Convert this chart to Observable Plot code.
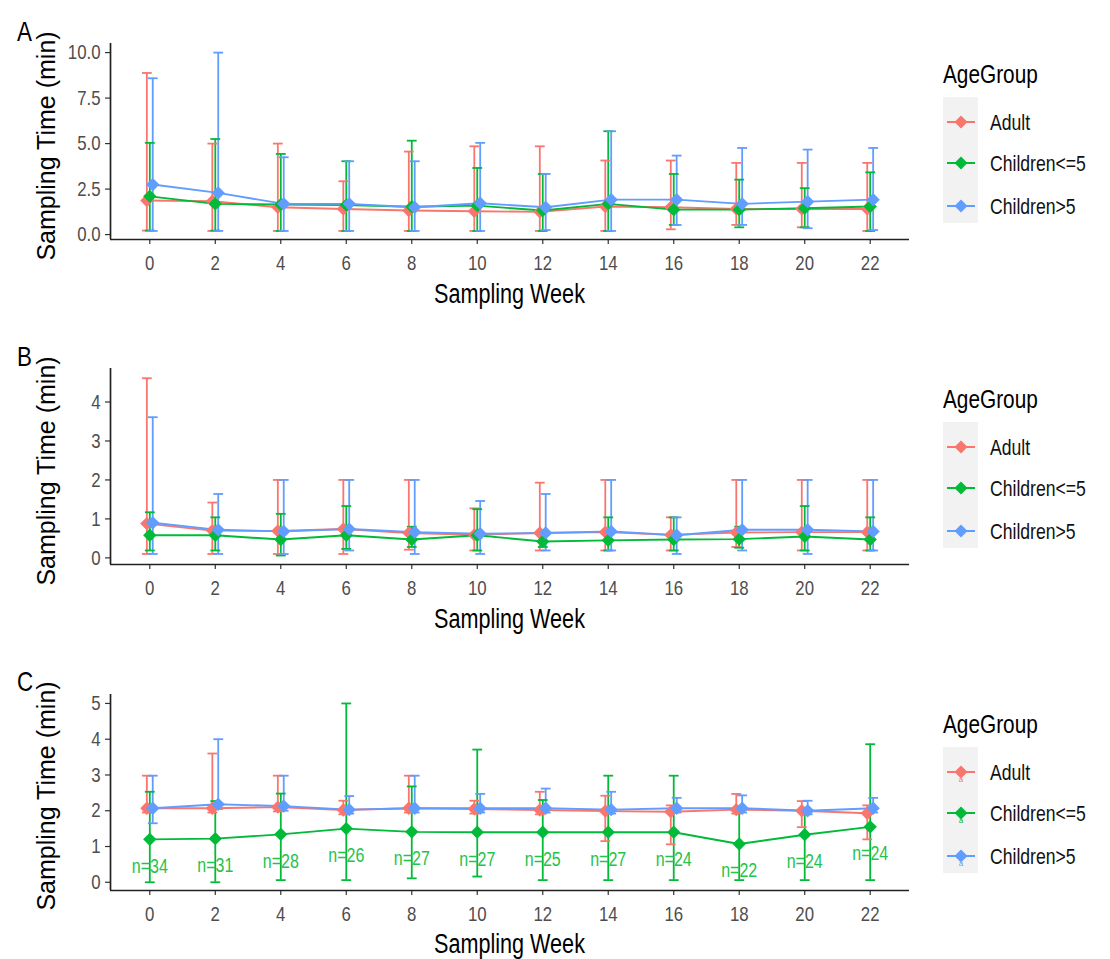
<!DOCTYPE html>
<html><head><meta charset="utf-8">
<script src="https://cdn.jsdelivr.net/npm/d3@7"></script>
<script src="https://cdn.jsdelivr.net/npm/@observablehq/plot@0.6"></script>
<style>
body{margin:0;background:#fff;}
#root{position:relative;width:1110px;height:959px;overflow:hidden;background:#fff;}
#root > svg{position:absolute;}
</style></head><body><div id="root"></div>
<script>
// ---------- data ----------
const weeks = [0, 2, 4, 6, 8, 10, 12, 14, 16, 18, 20, 22];
const groups = ["Adult", "Children<=5", "Children>5"];
const colors = ["#F8766D", "#00BA38", "#619CFF"];

// Panel A
const aAdultMean = [1.87, 1.83, 1.50, 1.41, 1.32, 1.28, 1.25, 1.54, 1.50, 1.41, 1.41, 1.41];
const aAdultHi   = [8.88, 5.00, 5.00, 2.93, 4.56, 4.85, 4.85, 4.07, 4.07, 3.94, 3.94, 3.94];
const aAdultLo   = [0.22, 0.20, 0.20, 0.20, 0.20, 0.20, 0.20, 0.20, 0.29, 0.53, 0.40, 0.20];
const aC5Mean    = [2.10, 1.69, 1.65, 1.62, 1.53, 1.59, 1.32, 1.69, 1.37, 1.37, 1.45, 1.54];
const aC5Hi      = [5.04, 5.25, 4.43, 4.03, 5.16, 3.66, 3.33, 5.68, 3.33, 3.02, 2.55, 3.42];
const aC5Lo      = [0.22, 0.22, 0.20, 0.20, 0.20, 0.20, 0.20, 0.20, 0.53, 0.40, 0.40, 0.20];
const aG5Mean    = [2.75, 2.29, 1.69, 1.69, 1.50, 1.72, 1.50, 1.92, 1.92, 1.69, 1.81, 1.92];
const aG5Hi      = [8.59, 10.0, 4.25, 4.03, 4.03, 5.04, 3.33, 5.68, 4.34, 4.76, 4.67, 4.76];
const aG5Lo      = [0.20, 0.20, 0.20, 0.20, 0.20, 0.20, 0.25, 0.20, 0.53, 0.53, 0.35, 0.25];

// Panel B
const bAdultMean = [0.88, 0.70, 0.69, 0.74, 0.64, 0.59, 0.64, 0.66, 0.59, 0.65, 0.66, 0.66];
const bAdultHi   = [4.61, 1.42, 2.00, 2.00, 2.00, 1.27, 1.93, 2.00, 1.04, 2.00, 2.00, 2.00];
const bAdultLo   = [0.10, 0.10, 0.10, 0.10, 0.21, 0.19, 0.19, 0.19, 0.19, 0.28, 0.19, 0.19];
const bC5Mean    = [0.58, 0.58, 0.47, 0.58, 0.47, 0.58, 0.42, 0.45, 0.47, 0.48, 0.55, 0.47];
const bC5Hi      = [1.17, 1.04, 1.13, 1.33, 0.80, 1.25, 0.65, 1.04, 1.04, 0.80, 1.33, 1.04];
const bC5Lo      = [0.19, 0.19, 0.06, 0.23, 0.28, 0.19, 0.28, 0.19, 0.19, 0.26, 0.19, 0.19];
const bG5Mean    = [0.90, 0.72, 0.68, 0.74, 0.66, 0.62, 0.64, 0.68, 0.58, 0.72, 0.72, 0.68];
const bG5Hi      = [3.61, 1.64, 2.00, 2.00, 2.00, 1.46, 1.64, 2.00, 1.04, 2.00, 2.00, 2.00];
const bG5Lo      = [0.10, 0.10, 0.10, 0.19, 0.10, 0.10, 0.19, 0.19, 0.10, 0.19, 0.10, 0.19];

// Panel C
const cAdultMean = [2.07, 2.07, 2.10, 2.02, 2.07, 2.05, 2.02, 1.99, 1.97, 2.03, 2.00, 1.93];
const cAdultHi   = [2.98, 3.60, 2.98, 2.28, 2.98, 2.28, 2.53, 2.42, 2.15, 2.47, 2.27, 2.15];
const cAdultLo   = [1.95, 1.95, 1.98, 1.90, 1.95, 1.92, 1.90, 1.15, 1.06, 1.92, 1.54, 1.20];
const cC5Mean    = [1.20, 1.22, 1.34, 1.50, 1.41, 1.40, 1.40, 1.40, 1.40, 1.07, 1.33, 1.55];
const cC5Hi      = [2.53, 2.27, 2.48, 5.00, 2.68, 3.71, 2.30, 2.98, 2.98, 2.05, 2.00, 3.86];
const cC5Lo      = [0.00, 0.00, 0.06, 0.06, 0.11, 0.16, 0.06, 0.06, 0.06, 0.06, 0.06, 0.06];
const cG5Mean    = [2.07, 2.18, 2.13, 2.03, 2.07, 2.07, 2.07, 2.03, 2.07, 2.07, 2.00, 2.07];
const cG5Hi      = [2.98, 4.00, 2.98, 2.41, 2.98, 2.47, 2.62, 2.53, 2.36, 2.43, 2.28, 2.36];
const cG5Lo      = [1.65, 2.05, 2.00, 1.92, 1.95, 1.95, 1.95, 1.92, 1.95, 1.95, 1.90, 1.95];
const cCounts    = [34, 31, 28, 26, 27, 27, 25, 27, 24, 22, 24, 24];

const yTicksA = [0, 2.5, 5, 7.5, 10];
const yTicksB = [0, 1, 2, 3, 4];
const yTicksC = [0, 1, 2, 3, 4, 5];

// ---------- layout ----------
const FONT = '"Liberation Sans",Arial,sans-serif';
const SQUEEZE = 0.8;
const root = document.getElementById("root");
const dodge = [-0.09, 0, 0.09];
const xDomain = [-1.2, 23.2];
const capHalf = 0.15;

// render condensed text like the reference (keeps real text, only compresses glyph width)
function squeeze(nodes, k) {
  nodes.forEach(t => {
    const L = t.getComputedTextLength();
    if (L > 0) {
      t.setAttribute("textLength", (L * k).toFixed(2));
      t.setAttribute("lengthAdjust", "spacingAndGlyphs");
    }
  });
}

function buildRows(series) {
  const rows = [];
  series.forEach((s, g) => {
    weeks.forEach((w, i) => {
      rows.push({week: w, group: groups[g], x: w + dodge[g], mean: s[0][i], hi: s[1][i], lo: s[2][i], gi: g});
    });
  });
  return rows;
}

function panel(top, series, yDomain, yTicks, fmt, counts) {
  const rows = buildRows(series);
  const marks = [
    Plot.axisX({ticks: weeks, tickSize: 5, tickPadding: 11, label: null, stroke: "#333", strokeWidth: 1.2, fill: "#4D4D4D", fontSize: 21}),
    Plot.axisY({ticks: yTicks, tickFormat: fmt, tickSize: 5, tickPadding: 5, label: null, stroke: "#333", strokeWidth: 1.2, fill: "#4D4D4D", fontSize: 21}),
    Plot.ruleX([xDomain[0]], {y1: yDomain[0], y2: yDomain[1], stroke: "#222", strokeWidth: 1.7}),
    Plot.ruleY([yDomain[0]], {x1: xDomain[0], x2: xDomain[1], stroke: "#222", strokeWidth: 1.7}),
    Plot.ruleX(rows, {x: "x", y1: "lo", y2: "hi", stroke: "group", strokeWidth: 1.8}),
    Plot.link(rows, {x1: d => d.x - capHalf, x2: d => d.x + capHalf, y1: "hi", y2: "hi", stroke: "group", strokeWidth: 1.8}),
    Plot.link(rows, {x1: d => d.x - capHalf, x2: d => d.x + capHalf, y1: "lo", y2: "lo", stroke: "group", strokeWidth: 1.8}),
    Plot.line(rows, {x: "x", y: "mean", z: "group", stroke: "group", strokeWidth: 1.9}),
    Plot.dot(rows, {x: "x", y: "mean", fill: "group", symbol: "diamond2", r: 6, stroke: "none"})
  ];
  if (counts) {
    const green = rows.filter(d => d.gi === 1);
    marks.push(Plot.text(green, {x: "x", y: "mean", text: (d, i) => "n=" + counts[i], dy: 27, fill: "#22C44A", fontSize: 20, fontFamily: FONT}));
  }
  const svg = Plot.plot({
    width: 920, height: 280,
    marginLeft: 110, marginRight: 11, marginTop: 13, marginBottom: 71,
    x: {domain: xDomain},
    y: {domain: yDomain},
    color: {domain: groups, range: colors},
    style: {fontFamily: FONT, fontSize: "21px", background: "transparent", overflow: "visible"},
    marks
  });
  svg.style.left = "0px";
  svg.style.top = top + "px";
  root.appendChild(svg);
  squeeze(Array.from(svg.querySelectorAll("text")), SQUEEZE);
}

panel(30, [[aAdultMean, aAdultHi, aAdultLo], [aC5Mean, aC5Hi, aC5Lo], [aG5Mean, aG5Hi, aG5Lo]],
      [-0.27, 10.5], yTicksA, d3.format(".1f"), null);
panel(355, [[bAdultMean, bAdultHi, bAdultLo], [bC5Mean, bC5Hi, bC5Lo], [bG5Mean, bG5Hi, bG5Lo]],
      [-0.17, 4.86], yTicksB, d3.format("d"), null);
panel(681, [[cAdultMean, cAdultHi, cAdultLo], [cC5Mean, cC5Hi, cC5Lo], [cG5Mean, cG5Hi, cG5Lo]],
      [-0.23, 5.25], yTicksC, d3.format("d"), cCounts);

// ---------- annotations + legends ----------
const ov = d3.select(root).append("svg")
  .attr("width", 1110).attr("height", 959)
  .style("left", "0px").style("top", "0px").style("pointer-events", "none");

const narrowTexts = [];
const letters = ["A", "B", "C"];
[0, 1, 2].forEach(p => {
  const off = p * 325;
  narrowTexts.push(ov.append("text").attr("x", 17).attr("y", 41 + off).text(letters[p])
    .attr("font-family", FONT).attr("font-size", 28).attr("fill", "#000").node());
  narrowTexts.push(ov.append("text").attr("x", 509.5).attr("y", 303 + off).attr("text-anchor", "middle")
    .text("Sampling Week").attr("font-family", FONT).attr("font-size", 27).attr("fill", "#000").node());
  ov.append("text").attr("transform", `translate(55,${146 + off}) rotate(-90)`).attr("text-anchor", "middle")
    .text("Sampling Time (min)").attr("font-family", FONT).attr("font-size", 25).attr("fill", "#000");
  // legend
  narrowTexts.push(ov.append("text").attr("x", 943).attr("y", 83 + off).text("AgeGroup")
    .attr("font-family", FONT).attr("font-size", 26).attr("fill", "#000").node());
  ov.append("rect").attr("x", 943).attr("y", 97 + off).attr("width", 35).attr("height", 126).attr("fill", "#F2F2F2");
  const rowsY = [122, 163, 206];
  groups.forEach((g, i) => {
    const y = rowsY[i] + off;
    ov.append("line").attr("x1", 947).attr("x2", 975).attr("y1", y).attr("y2", y)
      .attr("stroke", colors[i]).attr("stroke-width", 2);
    ov.append("path").attr("d", `M961,${y - 6.5}L967.5,${y}L961,${y + 6.5}L954.5,${y}Z`).attr("fill", colors[i]);
    if (p === 2) {
      ov.append("text").attr("x", 961).attr("y", y + 10).attr("text-anchor", "middle").text("a")
        .attr("font-family", FONT).attr("font-size", 8).attr("fill", colors[i]);
    }
    narrowTexts.push(ov.append("text").attr("x", 990).attr("y", y).attr("dominant-baseline", "central").text(g)
      .attr("font-family", FONT).attr("font-size", 22).attr("fill", "#111").node());
  });
});
squeeze(narrowTexts, SQUEEZE);
</script></body></html>
